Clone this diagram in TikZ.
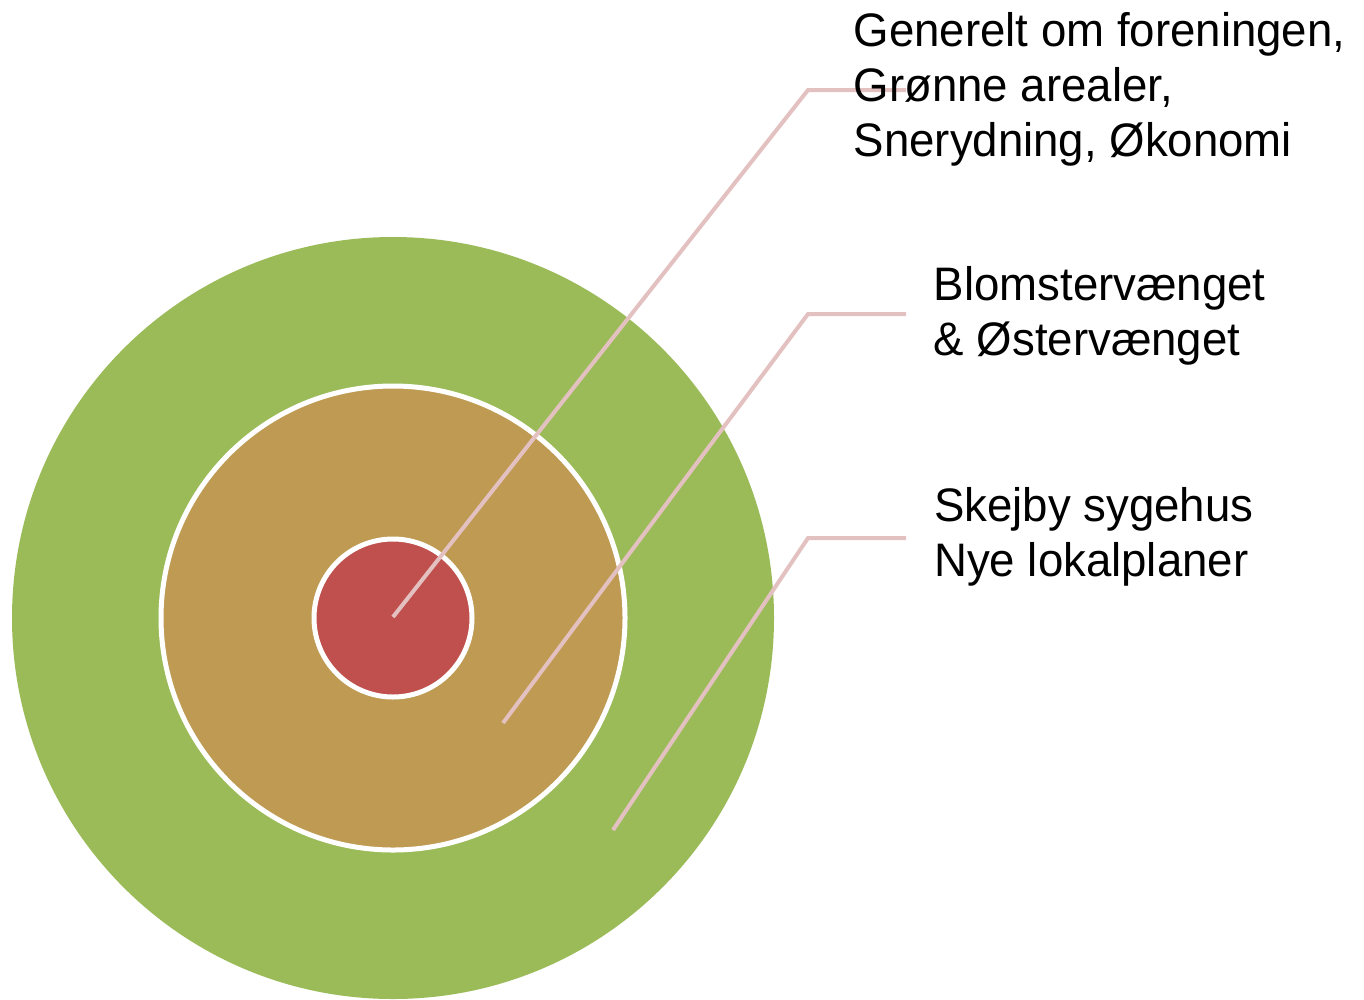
\documentclass[tikz,border=0pt]{standalone}
\usepackage{fontspec}
\setmainfont{Liberation Sans}[FakeStretch=0.97]
\definecolor{ringgreen}{RGB}{155,187,89}
\definecolor{ringtan}{RGB}{190,154,82}
\definecolor{ringred}{RGB}{192,80,77}
\definecolor{leader}{RGB}{228,193,193}
\begin{document}
\begin{tikzpicture}[x=1pt,y=-1pt,
  ring/.style={circle,inner sep=0pt,draw=white,line width=5pt},
  lbl/.style={anchor=base west,inner sep=0pt,font=\fontsize{47}{55}\selectfont},
  leaderline/.style={draw=leader,line width=4pt}]
\useasboundingbox (0,0) rectangle (1364,999);
\node[circle,inner sep=0pt,fill=ringgreen,minimum size=762pt] (outer) at (393,618) {};
\node[ring,fill=ringtan,minimum size=464pt] (middle) at (393,618) {};
\node[ring,fill=ringred,minimum size=158pt] (inner) at (393,618) {};
% leader end points
\coordinate (p1) at (393,617);
\coordinate (k1) at (808,90);
\coordinate (e1) at (906,90);
\coordinate (p2) at (503,723);
\coordinate (k2) at (808,314);
\coordinate (e2) at (906,314);
\coordinate (p3) at (613,830);
\coordinate (k3) at (808,538);
\coordinate (e3) at (906,538);
\draw[leaderline] (p1) -- (k1) -- (e1);
\draw[leaderline] (p2) -- (k2) -- (e2);
\draw[leaderline] (p3) -- (k3) -- (e3);
% labels
\node[lbl] (t1a) at (853.5,46.5) {Generelt om foreningen,};
\node[lbl] (t1b) at (853.5,101.5) {Grønne arealer,};
\node[lbl] (t1c) at (853.5,156.5) {Snerydning, Økonomi};
\node[lbl] (t2a) at (933.5,300) {Blomstervænget};
\node[lbl] (t2b) at (933.5,355.5) {\& Østervænget};
\node[lbl] (t3a) at (934,521) {Skejby sygehus};
\node[lbl] (t3b) at (934,576) {Nye lokalplaner};
\end{tikzpicture}
\end{document}
